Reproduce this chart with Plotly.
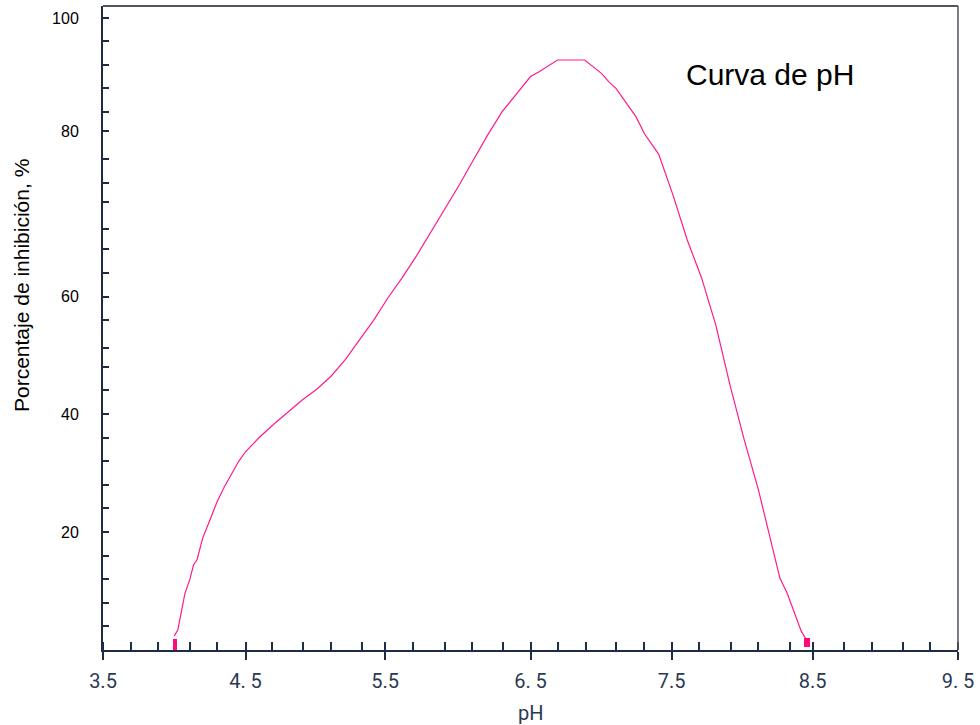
import plotly.graph_objects as go

# Inhibition curve vs pH
ph = [4.00, 4.025, 4.05, 4.075, 4.11, 4.135, 4.16, 4.20, 4.25, 4.30, 4.35, 4.40, 4.45,
      4.50, 4.60, 4.70, 4.80, 4.90, 5.00, 5.10, 5.20, 5.30, 5.40, 5.50, 5.60, 5.70,
      5.80, 5.90, 6.00, 6.10, 6.20, 6.30, 6.41, 6.50, 6.56, 6.64, 6.69, 6.88, 6.94,
      7.00, 7.05, 7.10, 7.19, 7.24, 7.30, 7.40, 7.50, 7.60, 7.70, 7.80, 7.90, 8.00,
      8.10, 8.20, 8.25, 8.30, 8.35, 8.40, 8.43]
inhibition = [2.4, 3.4, 6.5, 9.6, 12.0, 14.4, 15.3, 19.0, 22.0, 25.1, 27.6, 29.8, 31.9,
              33.6, 36.1, 38.3, 40.3, 42.4, 44.2, 46.4, 49.2, 52.5, 55.9, 59.7, 63.1, 66.8,
              70.8, 74.9, 78.8, 83.1, 87.3, 91.2, 94.6, 97.2, 98.0, 99.2, 100, 100, 98.9,
              97.7, 96.3, 95.2, 92.1, 90.4, 87.5, 84.0, 77.1, 69.5, 63.1, 55.1, 44.9, 35.6,
              27.1, 17.3, 12.2, 9.7, 6.4, 3.2, 2.0]

# End-point marks (pH limits of activity)
end_ph = [4.005, 8.438]
end_base = [0.0, 0.55]
end_height = [1.9, 1.4]
end_width = [0.028, 0.042]

# Axis ticks
x_major_vals = [3.5, 4.5, 5.48, 6.5, 7.49, 8.48, 9.5]
x_major_text = ["3.5", "4. 5", "5.5", "6. 5", "7.5", "8.5", "9. 5"]
x_minor_vals = [3.695, 3.886, 4.107, 4.300, 4.688, 4.904, 5.100, 5.316, 5.677, 5.898,
                6.091, 6.307, 6.693, 6.886, 7.102, 7.298, 7.684, 7.905, 8.098, 8.319,
                8.700, 8.893, 9.112, 9.305]
y_tick_vals = [4.0, 8.0, 12.0, 16.0, 20.0, 24.0, 28.0, 32.0, 36.0, 40.0, 44.0, 48.0,
               51.2, 55.9, 59.9, 63.9, 67.9, 71.3, 75.9, 79.2, 83.2, 87.9, 91.2, 95.2,
               99.2, 103.2, 107.1]
y_tick_text = ["", "", "", "", "20", "", "", "", "", "40", "", "", "", "", "60", "",
               "", "", "", "", "", "80", "", "", "", "", "100"]

AXIS = "#1e2c46"
TICKFONT = "#2b3a52"
PINK = "#ff1a8c"

fig = go.Figure()

fig.add_trace(go.Scatter(
    x=ph, y=inhibition, mode="lines",
    line=dict(color=PINK, width=1.2),
    hoverinfo="skip", showlegend=False,
))

fig.add_trace(go.Bar(
    x=end_ph, y=end_height, base=end_base, width=end_width,
    marker=dict(color="#ff0a78", line=dict(width=0)),
    showlegend=False, hoverinfo="skip",
))

fig.update_layout(
    width=980, height=725,
    margin=dict(l=103, r=17, t=6, b=75),
    paper_bgcolor="white", plot_bgcolor="white",
    font=dict(family="Liberation Sans, Arial, sans-serif", color="black"),
    xaxis=dict(
        range=[3.5, 9.5], showgrid=False, zeroline=False,
        showline=True, linecolor=AXIS, linewidth=2,
        tickmode="array", tickvals=x_major_vals, ticktext=x_major_text,
        ticks="outside", ticklen=8, tickwidth=1.5, tickcolor=AXIS,
        ticklabelstandoff=4,
        tickfont=dict(family="Roboto, Liberation Sans, sans-serif", size=20, color=TICKFONT),
        minor=dict(
            tickmode="array",
            tickvals=x_minor_vals + [v + 1e-4 for v in x_major_vals],
            ticks="inside", ticklen=8, tickwidth=1.5, tickcolor=AXIS, showgrid=False,
        ),
    ),
    yaxis=dict(
        range=[0, 109.15], showgrid=False, zeroline=False,
        showline=True, linecolor=AXIS, linewidth=2,
        tickmode="array", tickvals=y_tick_vals, ticktext=y_tick_text,
        ticks="inside", ticklen=6, tickwidth=1.5, tickcolor=AXIS,
        ticklabelstandoff=19,
        tickfont=dict(family="Liberation Sans, Arial, sans-serif", size=16, color="black"),
    ),
    shapes=[
        dict(type="line", xref="paper", yref="paper", x0=0, x1=1, y0=1, y1=1,
             line=dict(color="#505560", width=2)),
        dict(type="line", xref="paper", yref="paper", x0=1, x1=1, y0=0, y1=1,
             line=dict(color="#505560", width=1.5)),
    ],
    annotations=[
        dict(text="Curva de pH", xref="paper", yref="paper", x=0.78, y=0.893,
             xanchor="center", yanchor="middle", showarrow=False,
             font=dict(family="Liberation Sans, Arial, sans-serif", size=30, color="black")),
        dict(text="Porcentaje de inhibición, %", xref="paper", yref="paper",
             x=-0.0953, y=0.566, textangle=-90, xanchor="center", yanchor="middle",
             showarrow=False,
             font=dict(family="Liberation Sans, Arial, sans-serif", size=21, color="black")),
        dict(text="pH", xref="paper", yref="paper", x=0.5, y=-0.098,
             xanchor="center", yanchor="middle", showarrow=False,
             font=dict(family="Roboto, Liberation Sans, sans-serif", size=20, color=TICKFONT)),
    ],
    bargap=0,
)

fig.write_html("out.html")
